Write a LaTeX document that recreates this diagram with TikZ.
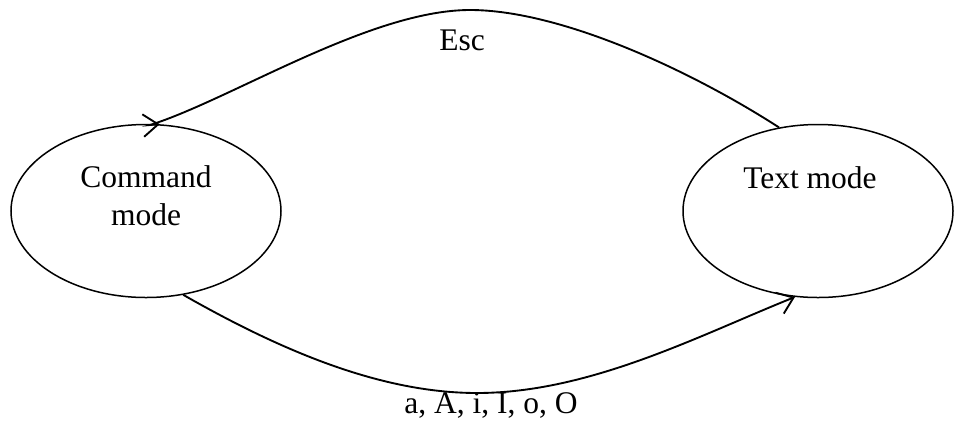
\documentclass[tikz,border=0pt]{standalone}
\usepackage{fontspec}
\setmainfont{Liberation Serif}
\usetikzlibrary{arrows.meta,shapes.geometric}

\begin{document}
\begin{tikzpicture}[
    x=.4pt,y=-.4pt,font=\fontsize{12.6}{15.2}\selectfont,
    mode/.style={ellipse,draw,line width=.6pt,minimum width=108pt,
        minimum height=69.2pt,inner sep=0pt},
    switch/.style={line width=.75pt,-{Straight Barb[length=6pt,width=9pt]}},
    key label/.style={inner sep=0pt}
]
    \useasboundingbox (0,0) rectangle (960,421);

    % The two modes of the editor.
    \node[mode] (command mode) at (146,211) {};
    \node[mode] (text mode) at (818,211) {};
    \node[key label,align=center] (command name) at (146,196) {Command\\mode};
    \node[key label] (text name) at (810,178) {Text mode};

    % Back to command mode; the head sits level on the ellipse.
    \draw[switch] (text mode.115) .. controls (690,70) and (560,10) .. (470,10)
        .. controls (370,10) and (230,100) .. (150,125) -- (command mode.81);
    \node[key label] (esc) at (462,40) {Esc};

    % Into text mode.
    \draw[switch] (command mode.294) .. controls (280,350) and (380,393) .. (477,393)
        .. controls (590,393) and (700,335) .. (text mode.255);
    \node[key label] (insert keys) at (491,405) {a, A, i, I, o, O};
\end{tikzpicture}
\end{document}
